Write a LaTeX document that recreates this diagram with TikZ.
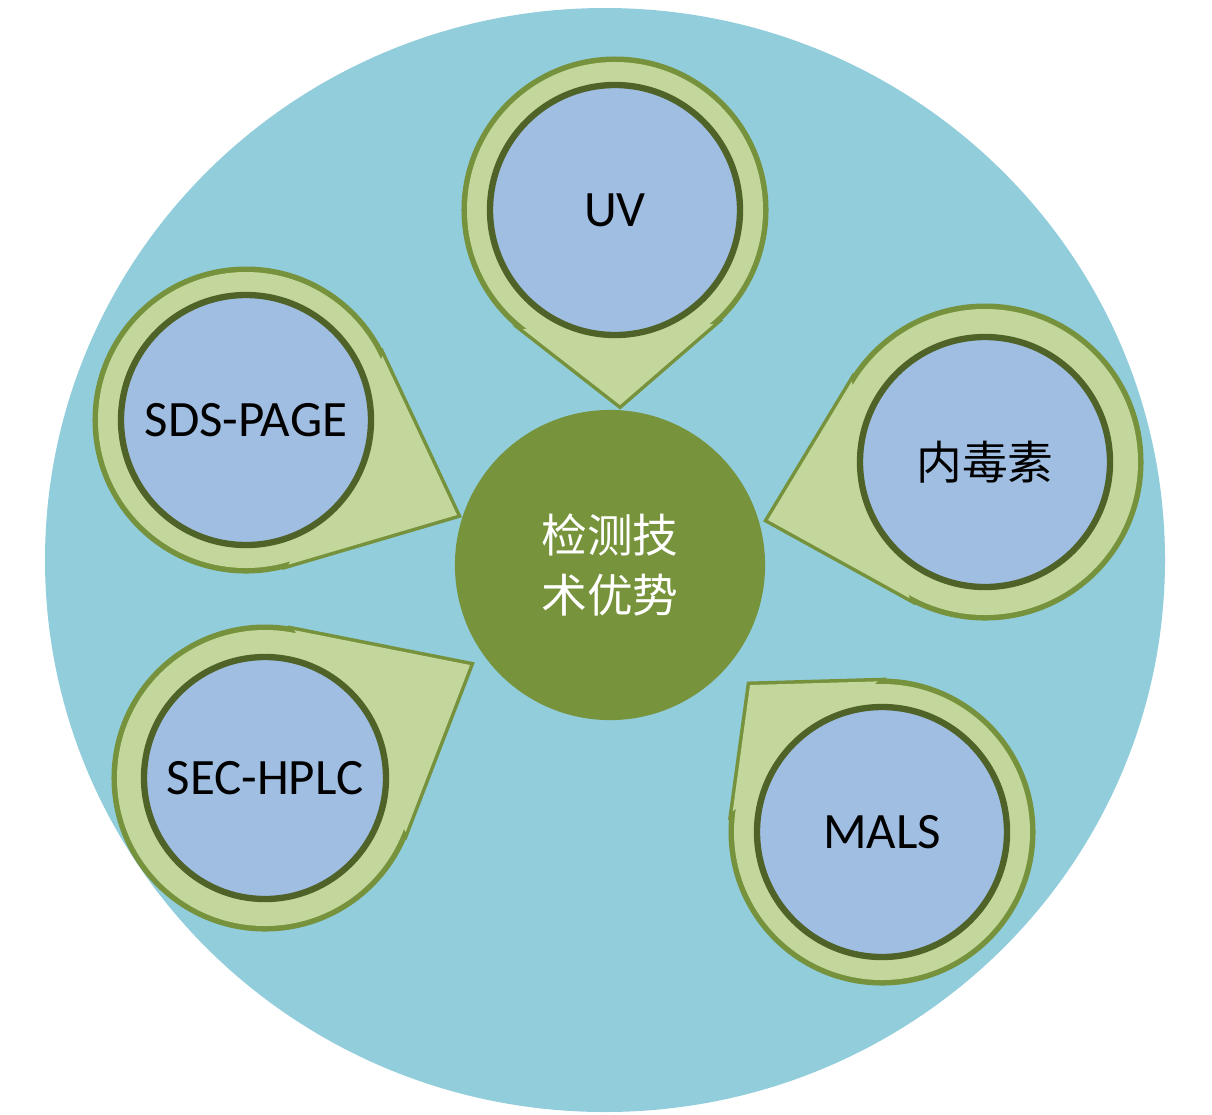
\documentclass[tikz,border=0pt]{standalone}
\usepackage{fontspec}
\setmainfont{Carlito}
\newfontfamily\cjk{Noto Sans CJK SC}
\usetikzlibrary{calc}
\definecolor{bgblue}{RGB}{146,205,220}
\definecolor{hubgreen}{RGB}{119,147,60}
\definecolor{pinfill}{RGB}{195,214,155}
\definecolor{pinborder}{RGB}{118,146,60}
\definecolor{innerblue}{RGB}{160,190,226}
\definecolor{innerring}{RGB}{79,98,40}
\tikzset{
    pinbase/.style={circle, minimum size={#1*0.01cm}, inner sep=0pt},
    pinline/.style={draw=pinborder, line width=2pt, fill=pinfill},
    pinfillonly/.style={fill=pinfill},
    inner/.style={circle, minimum size={#1*0.01cm}, inner sep=0pt, fill=innerblue, draw=innerring, line width=1.8pt, font=\fontsize{14.5}{16}\selectfont},
}
\newcommand{\techpin}[6]{% name, center, diameter, tip, inner size, label
    \node[pinbase=#3] (#1-out) at #2 {};
    \coordinate (#1-tip) at #4;
    \coordinate (#1-t1) at (tangent cs:node=#1-out,point={(#1-tip)},solution=1);
    \coordinate (#1-t2) at (tangent cs:node=#1-out,point={(#1-tip)},solution=2);
    \draw[pinline] (#1-tip) -- (#1-t1) -- (#1-t2) -- cycle;
    \draw[pinline] (#1-out.center) circle[radius=#3/2];
    \fill[pinfillonly] (#1-tip) -- (#1-t1) -- (#1-t2) -- cycle;
    \fill[pinfillonly] (#1-out.center) circle[radius=#3/2-2];
    \node[inner=#5] (#1) at #2 {#6};
}
\begin{document}
\begin{tikzpicture}[x=0.01cm, y=-0.01cm]
\useasboundingbox (0,0) rectangle (1212,1114);

% background disc
\fill[bgblue] (605,560) ellipse[x radius=560, y radius=552];

% pins
\techpin{uv}{(615,210)}{300}{(620,405)}{250}{UV}
\techpin{sds}{(246,420)}{300}{(457,515)}{250}{SDS-PAGE}
\techpin{endo}{(985,462)}{310}{(768,520)}{250}{\cjk\fontsize{13}{15}\selectfont 内毒素}
\techpin{sec}{(265,778)}{300}{(470,665)}{242}{SEC-HPLC}
\techpin{mals}{(882,832)}{300}{(750,685)}{250}{MALS}

% hub
\node[circle, minimum size=3.1cm, inner sep=0pt, fill=hubgreen, text=white,
      align=center, font=\cjk\fontsize{13}{17}\selectfont] (hub) at (610,565) {检测技\\术优势};

\end{tikzpicture}
\end{document}
